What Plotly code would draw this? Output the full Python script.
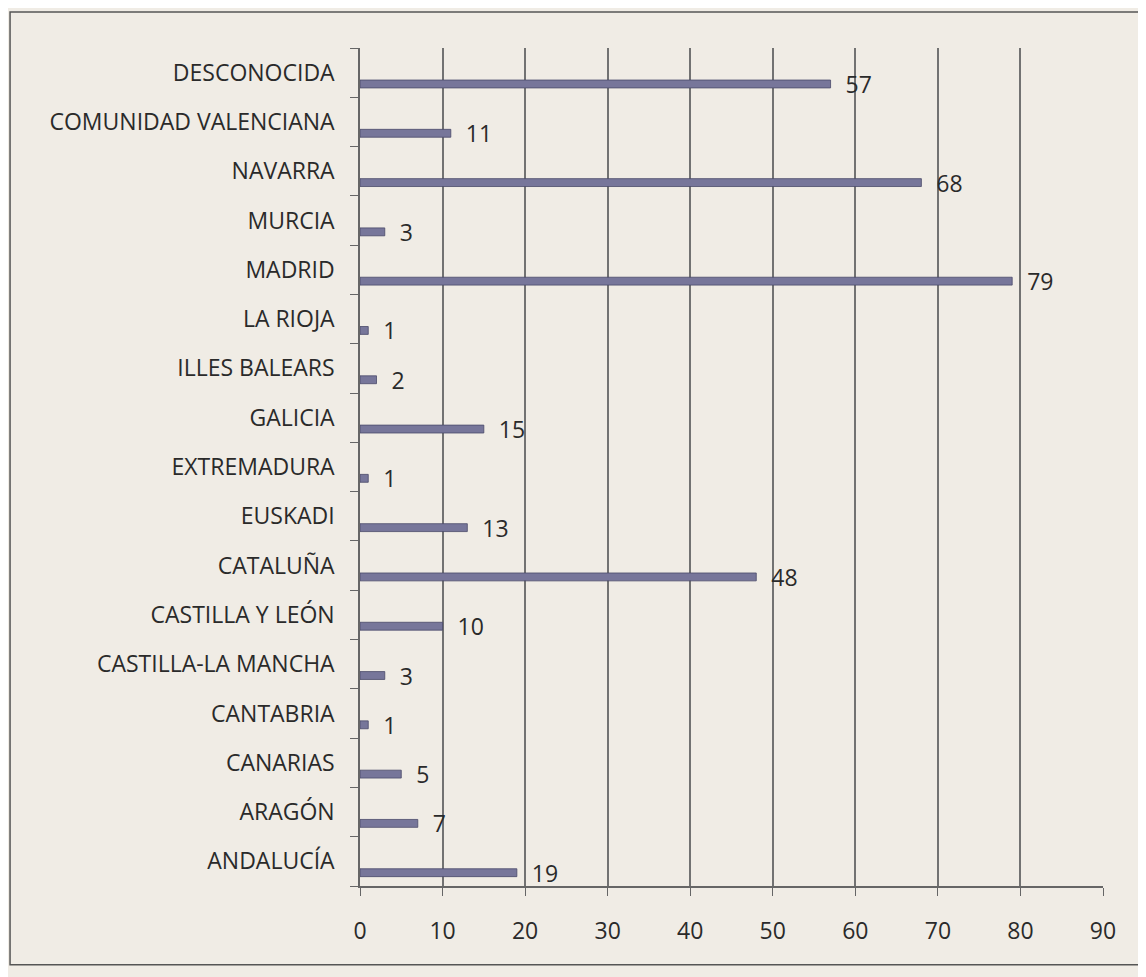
import plotly.graph_objects as go

categories = ["ANDALUCÍA", "ARAGÓN", "CANARIAS", "CANTABRIA", "CASTILLA-LA MANCHA",
              "CASTILLA Y LEÓN", "CATALUÑA", "EUSKADI", "EXTREMADURA", "GALICIA",
              "ILLES BALEARS", "LA RIOJA", "MADRID", "MURCIA", "NAVARRA",
              "COMUNIDAD VALENCIANA", "DESCONOCIDA"]
values = [19, 7, 5, 1, 3, 10, 48, 13, 1, 15, 2, 1, 79, 3, 68, 11, 57]
x_ticks = [0, 10, 20, 30, 40, 50, 60, 70, 80, 90]

BG = "#f0ece5"
FONT = "Open Sans, DejaVu Sans, sans-serif"
FS = 23

fig = go.Figure(go.Bar(
    y=categories, x=values, orientation="h",
    marker=dict(color="#77769a", line=dict(color="#4a4a6a", width=0.8)),
    width=0.16, offset=-0.31,
    text=["  " + str(v) for v in values], textposition="outside",
    constraintext="none", cliponaxis=False,
    textfont=dict(family=FONT, size=FS, color="#2a2a2a"),
))

fig.update_layout(
    width=1138, height=969,
    paper_bgcolor=BG, plot_bgcolor=BG,
    margin=dict(l=352, r=43, t=40, b=91),
    showlegend=False,
    font=dict(family=FONT, size=FS, color="#2a2a2a"),
    xaxis=dict(range=[0, 90], tickvals=x_ticks, showgrid=True, gridcolor="#727272",
               gridwidth=1.5, zeroline=False, showline=True, linecolor="#666666",
               linewidth=1.5, ticks="outside", ticklen=8, tickcolor="#666666",
               tickfont=dict(size=FS), ticklabelstandoff=16),
    yaxis=dict(type="category", categoryorder="array", categoryarray=categories,
               showline=True, linecolor="#666666", linewidth=1.5, ticks="outside",
               tickson="boundaries", ticklen=8, tickcolor="#666666",
               showgrid=False, tickfont=dict(size=FS), ticklabelstandoff=19),
    shapes=[dict(type="rect", xref="paper", yref="paper",
                 x0=-0.471, x1=1.06, y0=-0.094, y1=1.043,
                 line=dict(color="#555555", width=1.5))],
)

fig.write_html("out.html")
